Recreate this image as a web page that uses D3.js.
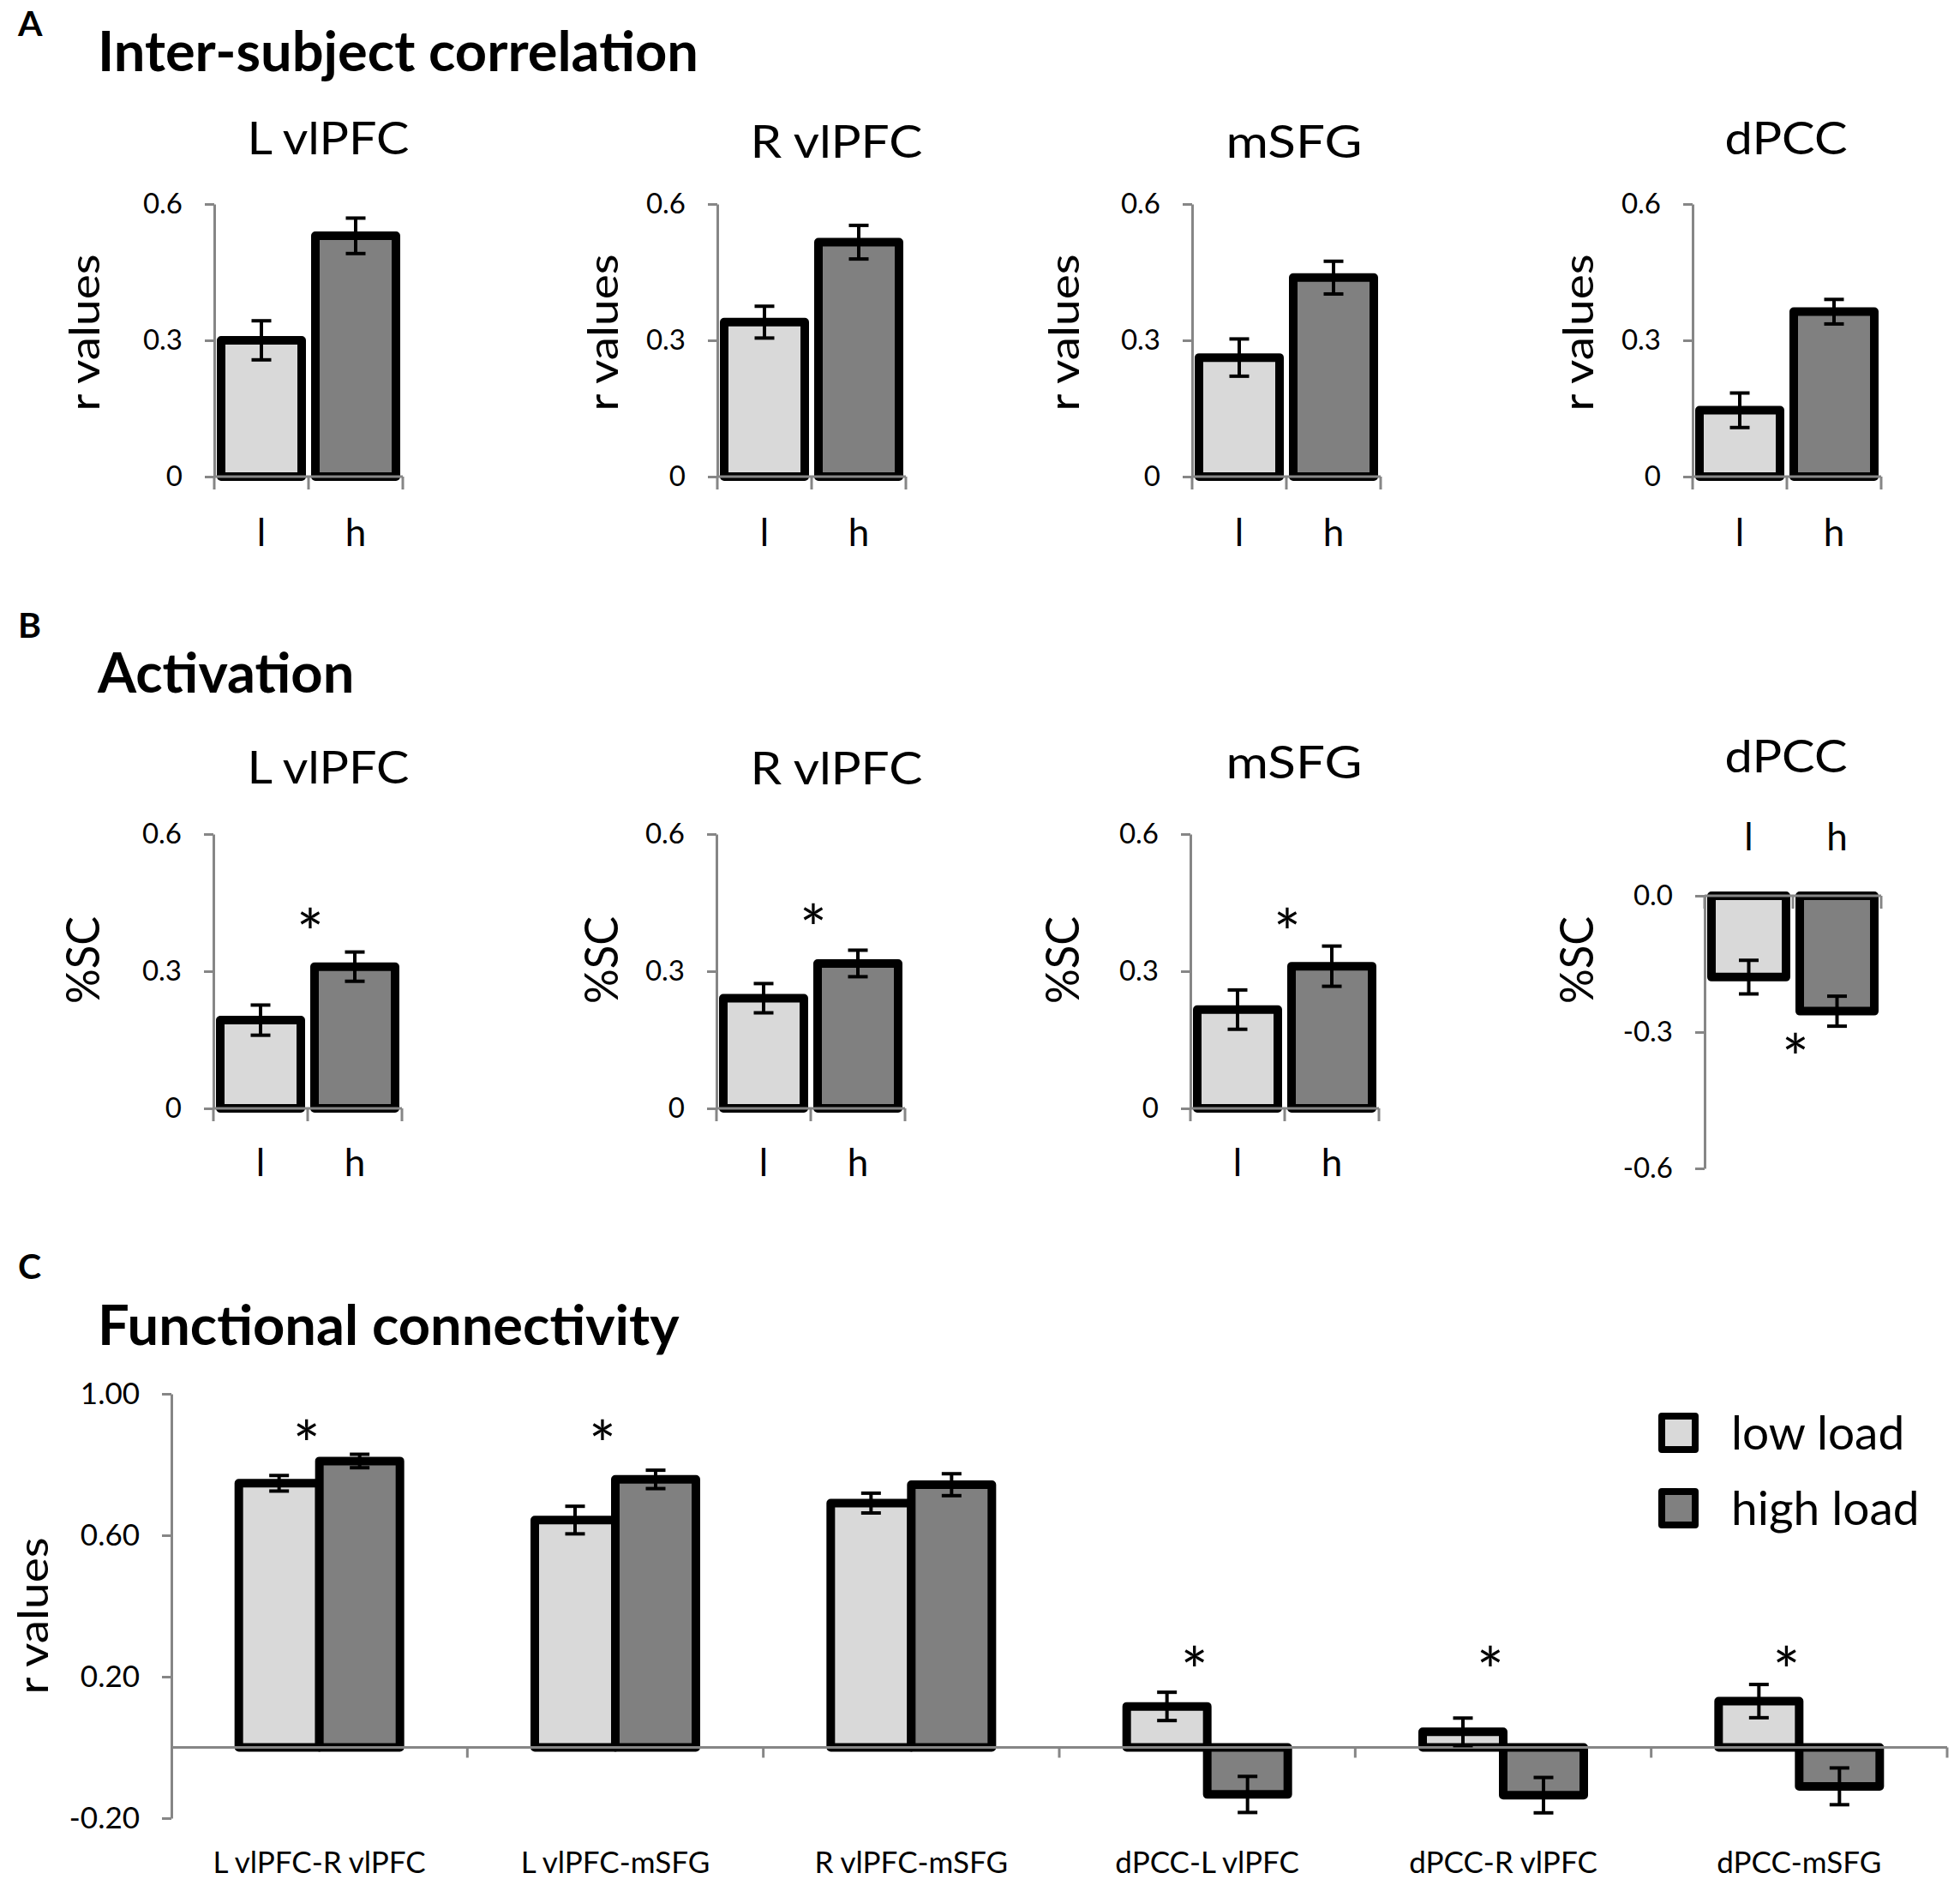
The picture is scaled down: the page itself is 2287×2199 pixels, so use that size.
<!DOCTYPE html>
<html>
<head>
  <meta charset="utf-8">
  <title>ISC, activation and functional connectivity</title>
  <script src="https://cdnjs.cloudflare.com/ajax/libs/d3/7.8.5/d3.min.js"></script>
  <style>
    html, body { margin: 0; padding: 0; background: #fff; }
    svg { display: block; font-family: Lato, "Open Sans", sans-serif; }
  </style>
</head>
<body>
<svg id="chart" width="2287" height="2199"></svg>
<script>
// ---- data ----
const regions = ["L vlPFC", "R vlPFC", "mSFG", "dPCC"];
const loads = ["l", "h"];

// A: inter-subject correlation (r values)
const iscLow    = [0.300, 0.340, 0.262, 0.146];
const iscHigh   = [0.530, 0.516, 0.438, 0.363];
const iscLowSE  = [0.043, 0.035, 0.041, 0.038];
const iscHighSE = [0.039, 0.037, 0.036, 0.027];

// B: activation (%SC)
const actLow    = [0.193, 0.241, 0.216, -0.179];
const actHigh   = [0.310, 0.317, 0.311, -0.254];
const actLowSE  = [0.033, 0.032, 0.043, 0.037];
const actHighSE = [0.032, 0.029, 0.044, 0.033];
const actStar   = [0.41, 0.42, 0.41, -0.33];   // level of the significance star

// C: functional connectivity (r values)
const fcPairs  = ["L vlPFC-R vlPFC", "L vlPFC-mSFG", "R vlPFC-mSFG", "dPCC-L vlPFC", "dPCC-R vlPFC", "dPCC-mSFG"];
const fcLow    = [0.747, 0.643, 0.691, 0.116, 0.044, 0.131];
const fcHigh   = [0.810, 0.758, 0.743, -0.133, -0.135, -0.110];
const fcLowSE  = [0.022, 0.039, 0.028, 0.040, 0.039, 0.047];
const fcHighSE = [0.019, 0.026, 0.031, 0.051, 0.050, 0.052];
const fcStar   = [0.89, 0.89, null, 0.25, 0.25, 0.25];

const posTicks = [0, 0.3, 0.6];
const posTickLabels = ["0", "0.3", "0.6"];
const negTicks = [0, -0.3, -0.6];
const negTickLabels = ["0.0", "-0.3", "-0.6"];
const fcTicks = [1.0, 0.6, 0.2, -0.2];
const fcTickLabels = ["1.00", "0.60", "0.20", "-0.20"];
const legendNames = ["low load", "high load"];

// ---- style ----
const LIGHT = "#d9d9d9", DARK = "#808080", AXIS = "#868686";
const FONT = "Lato, 'Open Sans', sans-serif";
const STAR = 75;

const svg = d3.select("#chart");
svg.append("rect").attr("width", 2287).attr("height", 2199).attr("fill", "#fff");

function txt(sel, x, y, s, size, opts = {}) {
  const t = sel.append("text")
    .attr("x", x).attr("y", y)
    .attr("font-family", FONT)
    .attr("font-size", size)
    .attr("font-weight", opts.bold ? "bold" : "normal")
    .attr("text-anchor", opts.anchor || "start")
    .attr("fill", "#000")
    .text(s);
  if (opts.len) t.attr("textLength", opts.len).attr("lengthAdjust", "spacingAndGlyphs");
  if (opts.rotate) t.attr("transform", `rotate(-90, ${x}, ${y})`);
  return t;
}

function heading(letter, title, ly, ty) {
  txt(svg, 21, ly, letter, 41, { bold: true });
  txt(svg, 114, ty, title, 65, { bold: true });
}

function styleAxis(g, size) {
  g.select(".domain").attr("stroke", AXIS).attr("stroke-width", 3);
  g.selectAll(".tick line").attr("stroke", AXIS).attr("stroke-width", 3);
  g.selectAll(".tick text").attr("font-family", FONT).attr("font-size", size).attr("fill", "#000");
}

function errorBar(g, cx, y, v, se) {
  const top = y(v + se), bot = y(v - se);
  g.append("line").attr("x1", cx).attr("x2", cx).attr("y1", top).attr("y2", bot);
  g.append("line").attr("x1", cx - 11.5).attr("x2", cx + 11.5).attr("y1", top).attr("y2", top);
  g.append("line").attr("x1", cx - 11.5).attr("x2", cx + 11.5).attr("y1", bot).attr("y2", bot);
}

function star(x, yc) {
  // yc is the visual centre of the asterisk
  txt(svg, x, yc + STAR * 0.56, "*", STAR, { anchor: "middle" });
}

function smallChart(p) {
  const x = d3.scaleBand().domain(loads).range([p.x0, p.x0 + p.w]);
  const y = d3.scaleLinear().domain(p.domain).range(p.range);
  const bw = x.bandwidth();
  const vals = [p.low, p.high], ses = [p.lowSE, p.highSE];
  const data = loads.map((k, i) => ({ k, v: vals[i], se: ses[i], fill: i ? DARK : LIGHT }));
  const y0 = y(0);

  svg.append("g").selectAll("rect").data(data).join("rect")
    .attr("x", d => x(d.k) + 8)
    .attr("width", bw - 16)
    .attr("y", d => Math.min(y(d.v), y0))
    .attr("height", d => Math.abs(y(d.v) - y0))
    .attr("fill", d => d.fill)
    .attr("stroke", "#000").attr("stroke-width", 10).attr("stroke-linejoin", "round");

  const ya = svg.append("g").attr("transform", `translate(${p.x0},0)`)
    .call(d3.axisLeft(y).tickValues(p.ticks).tickFormat((d, i) => p.tickLabels[i])
      .tickSize(11).tickSizeOuter(0).tickPadding(26));
  styleAxis(ya, 33);

  const xa = svg.append("g").attr("stroke", AXIS).attr("stroke-width", 3);
  xa.append("line").attr("x1", p.x0).attr("x2", p.x0 + p.w).attr("y1", y0).attr("y2", y0);
  const bounds = [x(loads[0]), x(loads[1]), x(loads[1]) + bw];
  xa.selectAll(".tk").data(bounds).join("line")
    .attr("x1", d => d).attr("x2", d => d).attr("y1", y0).attr("y2", y0 + 15);

  const eb = svg.append("g").attr("stroke", "#000").attr("stroke-width", 4);
  data.forEach(d => errorBar(eb, x(d.k) + bw / 2, y, d.v, d.se));

  loads.forEach(k => txt(svg, x(k) + bw / 2, p.xLabelY, k, 44, { anchor: "middle" }));
  txt(svg, p.titleX, p.titleY, p.title, 52, { anchor: "middle", len: p.titleW });
  txt(svg, p.ylabX, p.ylabY, p.ylab, p.ylabSize, { anchor: "middle", len: p.ylabLen, rotate: true });
  if (p.star != null) star(x(loads[1]) + 3, y(p.star));
}

// ---- panel A ----
heading("A", "Inter-subject correlation", 42, 83);
const aX = [250, 837, 1391, 1975];
const titleCX = [383, 976, 1510, 2084];
const titleW = [189, 201, 159, 143];
const ylabX = [116, 721, 1259, 1859];
const aTitleY = [180, 184, 184, 180];
regions.forEach((r, i) => smallChart({
  x0: aX[i], w: 220, domain: [0, 0.6], range: [556, 238],
  ticks: posTicks, tickLabels: posTickLabels,
  low: iscLow[i], high: iscHigh[i], lowSE: iscLowSE[i], highSE: iscHighSE[i],
  xLabelY: 637, title: r, titleX: titleCX[i], titleY: aTitleY[i], titleW: titleW[i],
  ylab: "r values", ylabX: ylabX[i], ylabY: 388, ylabLen: 183, ylabSize: 49
}));

// ---- panel B ----
heading("B", "Activation", 744, 808);
const bX = [249, 836, 1389, 1989];
const bTitleY = [914, 915, 908, 901];
regions.forEach((r, i) => {
  const neg = actLow[i] < 0;
  smallChart({
    x0: bX[i], w: neg ? 206 : 220,
    domain: neg ? [-0.6, 0] : [0, 0.6],
    range: neg ? [1363, 1045] : [1293, 973],
    ticks: neg ? negTicks : posTicks, tickLabels: neg ? negTickLabels : posTickLabels,
    low: actLow[i], high: actHigh[i], lowSE: actLowSE[i], highSE: actHighSE[i],
    xLabelY: neg ? 992 : 1372, title: r, titleX: titleCX[i], titleY: bTitleY[i], titleW: titleW[i],
    ylab: "%SC", ylabX: ylabX[i], ylabY: 1120, ylabLen: 102, ylabSize: 55,
    star: actStar[i]
  });
});

// ---- panel C ----
heading("C", "Functional connectivity", 1492, 1569);
const xc = d3.scaleBand().domain(fcPairs).range([200, 2272]);
const yc = d3.scaleLinear().domain([-0.2, 1.0]).range([2121, 1626]);
const cbw = 94;
const fcData = fcPairs.map((k, i) => ({ k, low: fcLow[i], high: fcHigh[i], lse: fcLowSE[i], hse: fcHighSE[i], star: fcStar[i] }));
const cMid = d => xc(d.k) + xc.bandwidth() / 2;
const cy0 = yc(0);

const cBars = svg.append("g").attr("stroke", "#000").attr("stroke-width", 10).attr("stroke-linejoin", "round");
fcData.forEach(d => {
  [[d.low, -cbw, LIGHT], [d.high, 0, DARK]].forEach(([v, off, fill]) => {
    cBars.append("rect")
      .attr("x", cMid(d) + off).attr("width", cbw)
      .attr("y", Math.min(yc(v), cy0)).attr("height", Math.abs(yc(v) - cy0))
      .attr("fill", fill);
  });
});

const yca = svg.append("g").attr("transform", "translate(200,0)")
  .call(d3.axisLeft(yc).tickValues(fcTicks).tickFormat((d, i) => fcTickLabels[i])
    .tickSize(11).tickSizeOuter(0).tickPadding(26));
styleAxis(yca, 35);

const xca = svg.append("g").attr("stroke", AXIS).attr("stroke-width", 3);
xca.append("line").attr("x1", 200).attr("x2", 2272).attr("y1", cy0).attr("y2", cy0);
xca.selectAll(".tk").data(fcPairs).join("line")
  .attr("x1", d => xc(d) + xc.bandwidth()).attr("x2", d => xc(d) + xc.bandwidth())
  .attr("y1", cy0).attr("y2", cy0 + 12);

const ceb = svg.append("g").attr("stroke", "#000").attr("stroke-width", 4);
fcData.forEach(d => {
  errorBar(ceb, cMid(d) - cbw / 2, yc, d.low, d.lse);
  errorBar(ceb, cMid(d) + cbw / 2, yc, d.high, d.hse);
});

fcData.forEach(d => {
  txt(svg, cMid(d), 2185, d.k, 35, { anchor: "middle" });
  if (d.star != null) star(cMid(d) - 15, yc(d.star));
});

txt(svg, 56, 1885, "r values", 49, { anchor: "middle", len: 183, rotate: true });

// legend
const leg = svg.append("g");
legendNames.forEach((name, i) => {
  const ly = 1652 + i * 88;
  leg.append("rect").attr("x", 1939).attr("y", ly).attr("width", 39).attr("height", 39)
    .attr("fill", i ? DARK : LIGHT).attr("stroke", "#000").attr("stroke-width", 8)
    .attr("stroke-linejoin", "round");
  txt(leg, 2020, ly + 39, name, 55);
});
</script>
</body>
</html>
